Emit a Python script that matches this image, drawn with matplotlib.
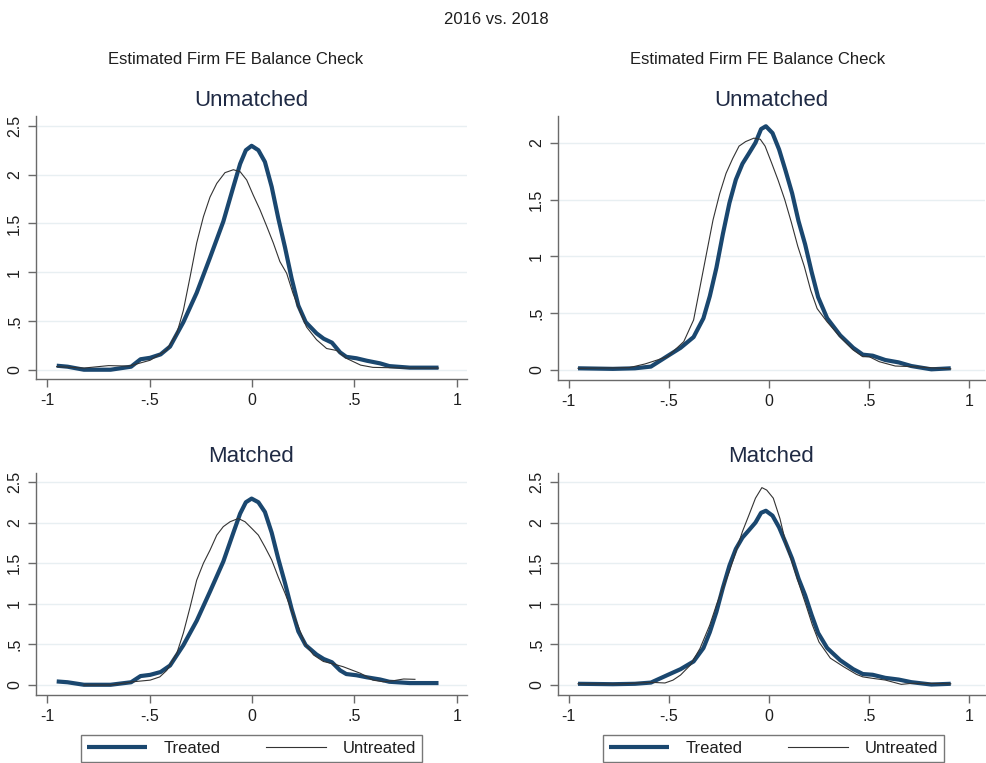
import numpy as np
import matplotlib
matplotlib.use("Agg")
import matplotlib.pyplot as plt
from matplotlib.lines import Line2D

plt.rcParams['font.family'] = ['Liberation Sans', 'DejaVu Sans']

# ---------------- data ----------------
# 2016 treated (same curve in Unmatched and Matched panels)
t16_x = [-0.953, -0.90, -0.82, -0.69, -0.59, -0.544, -0.497, -0.446, -0.40, -0.335, -0.27,
         -0.205, -0.14, -0.091, -0.058, -0.03, -0.002, 0.031, 0.063, 0.096, 0.128, 0.161,
         0.193, 0.226, 0.262, 0.315, 0.35, 0.39, 0.43, 0.46, 0.51, 0.56, 0.625, 0.67,
         0.77, 0.91]
t16_y = [0.044, 0.034, 0.003, 0.003, 0.034, 0.11, 0.125, 0.16, 0.24, 0.49, 0.79,
         1.15, 1.52, 1.875, 2.11, 2.25, 2.295, 2.25, 2.13, 1.875, 1.555, 1.255,
         0.94, 0.66, 0.49, 0.375, 0.32, 0.28, 0.18, 0.135, 0.12, 0.095, 0.068, 0.04,
         0.024, 0.024]

# 2016 untreated, unmatched
u16_x = [-0.953, -0.82, -0.70, -0.60, -0.497, -0.416, -0.367, -0.335, -0.302, -0.27, -0.237,
         -0.205, -0.172, -0.132, -0.091, -0.058, -0.026, 0.006, 0.039, 0.072, 0.104, 0.136,
         0.169, 0.20, 0.234, 0.266, 0.315, 0.364, 0.413, 0.46, 0.53, 0.59, 0.75, 0.91]
u16_y = [0.035, 0.02, 0.045, 0.04, 0.10, 0.205, 0.375, 0.61, 0.955, 1.30, 1.57,
         1.77, 1.91, 2.02, 2.05, 2.03, 1.945, 1.79, 1.64, 1.47, 1.30, 1.11,
         0.99, 0.785, 0.60, 0.44, 0.31, 0.22, 0.20, 0.12, 0.05, 0.027, 0.02, 0.02]

# 2016 untreated, matched
m16_x = [-0.82, -0.69, -0.58, -0.497, -0.45, -0.416, -0.367, -0.335, -0.302, -0.27, -0.237,
         -0.205, -0.172, -0.14, -0.107, -0.067, -0.034, -0.002, 0.031, 0.063, 0.096, 0.128,
         0.161, 0.193, 0.226, 0.258, 0.30, 0.348, 0.396, 0.445, 0.53, 0.59, 0.64, 0.69,
         0.74, 0.795]
m16_y = [0.0, 0.0, 0.04, 0.06, 0.10, 0.18, 0.39, 0.64, 0.96, 1.29, 1.50,
         1.66, 1.845, 1.95, 2.01, 2.05, 2.01, 1.93, 1.845, 1.70, 1.54, 1.33,
         1.13, 0.92, 0.72, 0.51, 0.37, 0.29, 0.26, 0.225, 0.143, 0.06, 0.04, 0.053,
         0.074, 0.07]

# 2018 treated (same curve in Unmatched and Matched panels)
t18_x = [-0.954, -0.78, -0.67, -0.59, -0.507, -0.442, -0.377, -0.328, -0.296, -0.263, -0.231,
         -0.198, -0.166, -0.133, -0.101, -0.068, -0.04, -0.016, 0.017, 0.05, 0.082, 0.115,
         0.147, 0.18, 0.212, 0.245, 0.29, 0.355, 0.42, 0.468, 0.517, 0.58, 0.647, 0.71,
         0.81, 0.907]
t18_y = [0.015, 0.01, 0.015, 0.03, 0.123, 0.195, 0.29, 0.455, 0.65, 0.90, 1.195,
         1.47, 1.675, 1.815, 1.905, 2.0, 2.12, 2.145, 2.085, 1.94, 1.755, 1.555,
         1.31, 1.105, 0.865, 0.64, 0.455, 0.305, 0.195, 0.135, 0.126, 0.088, 0.067, 0.035,
         0.006, 0.015]

# 2018 untreated, unmatched
u18_x = [-0.954, -0.70, -0.62, -0.507, -0.426, -0.377, -0.345, -0.312, -0.28, -0.247, -0.215,
         -0.182, -0.15, -0.117, -0.076, -0.044, -0.02, 0.013, 0.045, 0.078, 0.111, 0.143,
         0.176, 0.208, 0.24, 0.289, 0.355, 0.42, 0.468, 0.50, 0.55, 0.63, 0.71, 0.907]
u18_y = [0.015, 0.02, 0.053, 0.117, 0.25, 0.44, 0.73, 1.03, 1.32, 1.55, 1.73,
         1.86, 1.97, 2.01, 2.04, 2.03, 1.97, 1.82, 1.67, 1.50, 1.30, 1.09,
         0.91, 0.70, 0.54, 0.425, 0.29, 0.176, 0.117, 0.117, 0.073, 0.035, 0.03, 0.01]

# 2018 untreated, matched
m18_x = [-0.954, -0.75, -0.59, -0.52, -0.48, -0.442, -0.393, -0.345, -0.296, -0.263, -0.231,
         -0.198, -0.166, -0.133, -0.101, -0.068, -0.036, -0.012, 0.021, 0.054, 0.086, 0.119,
         0.151, 0.184, 0.216, 0.249, 0.306, 0.372, 0.437, 0.468, 0.517, 0.58, 0.66, 0.71,
         0.81, 0.907]
m18_y = [0.015, 0.012, 0.033, 0.025, 0.06, 0.123, 0.246, 0.45, 0.74, 0.985, 1.19,
         1.40, 1.64, 1.89, 2.09, 2.30, 2.43, 2.40, 2.30, 2.05, 1.72, 1.48,
         1.23, 0.985, 0.74, 0.53, 0.33, 0.225, 0.13, 0.10, 0.082, 0.061, 0.008, 0.02,
         0.02, 0.015]

x_ticks = [-1, -0.5, 0, 0.5, 1]
x_labels = ['-1', '-.5', '0', '.5', '1']
y_ticks_a = [0, 0.5, 1, 1.5, 2, 2.5]
y_labels_a = ['0', '.5', '1', '1.5', '2', '2.5']
y_ticks_b = [0, 0.5, 1, 1.5, 2]
y_labels_b = ['0', '.5', '1', '1.5', '2']

legend_labels = ['Treated', 'Untreated']
fig_title = '2016 vs. 2018'
col_title = 'Estimated Firm FE Balance Check'
panel_titles = ['Unmatched', 'Matched']

# ---------------- styling ----------------
W, H = 986, 763
NAVY = '#1a476f'
THIN = '#333333'
GRID = '#e8eff2'
AX = '#6a6a6a'
TXT = '#1e1e1e'
TITLE = '#1f2a44'

fig = plt.figure(figsize=(W / 100, H / 100), dpi=100)
fig.patch.set_facecolor('white')


def add_ax(l, r, t, b):
    return fig.add_axes([l / W, 1 - b / H, (r - l) / W, (b - t) / H])


panels = [
    (36, 467, 116, 379, (-1.054, 1.049), (-0.092, 2.6), y_ticks_a, y_labels_a,
     (t16_x, t16_y), (u16_x, u16_y)),
    (558, 985, 116, 380, (-1.054, 1.078), (-0.088, 2.235), y_ticks_b, y_labels_b,
     (t18_x, t18_y), (u18_x, u18_y)),
    (36, 467, 473, 695, (-1.054, 1.049), (-0.123, 2.61), y_ticks_a, y_labels_a,
     (t16_x, t16_y), (m16_x, m16_y)),
    (558, 985, 473, 695, (-1.054, 1.078), (-0.123, 2.61), y_ticks_a, y_labels_a,
     (t18_x, t18_y), (m18_x, m18_y)),
]

for i, (l, r, t, b, xl, yl, yt, ylab, tr, un) in enumerate(panels):
    ax = add_ax(l, r, t, b)
    ax.set_facecolor('white')
    ax.plot(un[0], un[1], color=THIN, lw=0.8, zorder=3, solid_joinstyle='round')
    ax.plot(tr[0], tr[1], color=NAVY, lw=3.0, zorder=2, solid_capstyle='butt',
            solid_joinstyle='round')
    ax.set_xlim(*xl)
    ax.set_ylim(*yl)
    ax.set_xticks(x_ticks)
    ax.set_xticklabels(x_labels, fontsize=11.5, color=TXT)
    ax.set_yticks(yt)
    ax.set_yticklabels(ylab, fontsize=11.5, color=TXT, rotation=90, va='center')
    ax.grid(axis='y', color=GRID, lw=1.0, zorder=0)
    ax.set_axisbelow(True)
    for s in ['top', 'right']:
        ax.spines[s].set_visible(False)
    for s in ['left', 'bottom']:
        ax.spines[s].set_color(AX)
        ax.spines[s].set_linewidth(1.0)
    ax.tick_params(axis='both', direction='out', length=6, width=1.0, color=AX, pad=4)
    cx = (l + r) / 2 / W
    ty = 100 if i < 2 else 457
    fig.text(cx, 1 - ty / H, panel_titles[i // 2], ha='center', va='center',
             fontsize=16, color=TITLE)

fig.text(496 / W, 1 - 19 / H, fig_title, ha='center', va='center', fontsize=12, color=TXT)
for cx in (236, 758):
    fig.text(cx / W, 1 - 59 / H, col_title, ha='center', va='center', fontsize=12, color=TXT)

# legends
for (l, r) in ((81, 422), (603, 944)):
    handles = [Line2D([], [], color=NAVY, lw=3.0, solid_capstyle='butt'),
               Line2D([], [], color=THIN, lw=0.8)]
    leg = fig.legend(handles, legend_labels, ncol=2, loc='lower left',
                     bbox_to_anchor=(l / W, 1 - 762 / H, (r - l) / W, 30 / H),
                     mode='expand', borderaxespad=0, frameon=True, fancybox=False,
                     edgecolor='#555555', fontsize=12, handlelength=3.6,
                     handletextpad=1.0, borderpad=0.35)
    leg.get_frame().set_linewidth(1.0)
    for txt in leg.get_texts():
        txt.set_color(TXT)

fig.savefig('out.png', dpi=100, facecolor='white')
